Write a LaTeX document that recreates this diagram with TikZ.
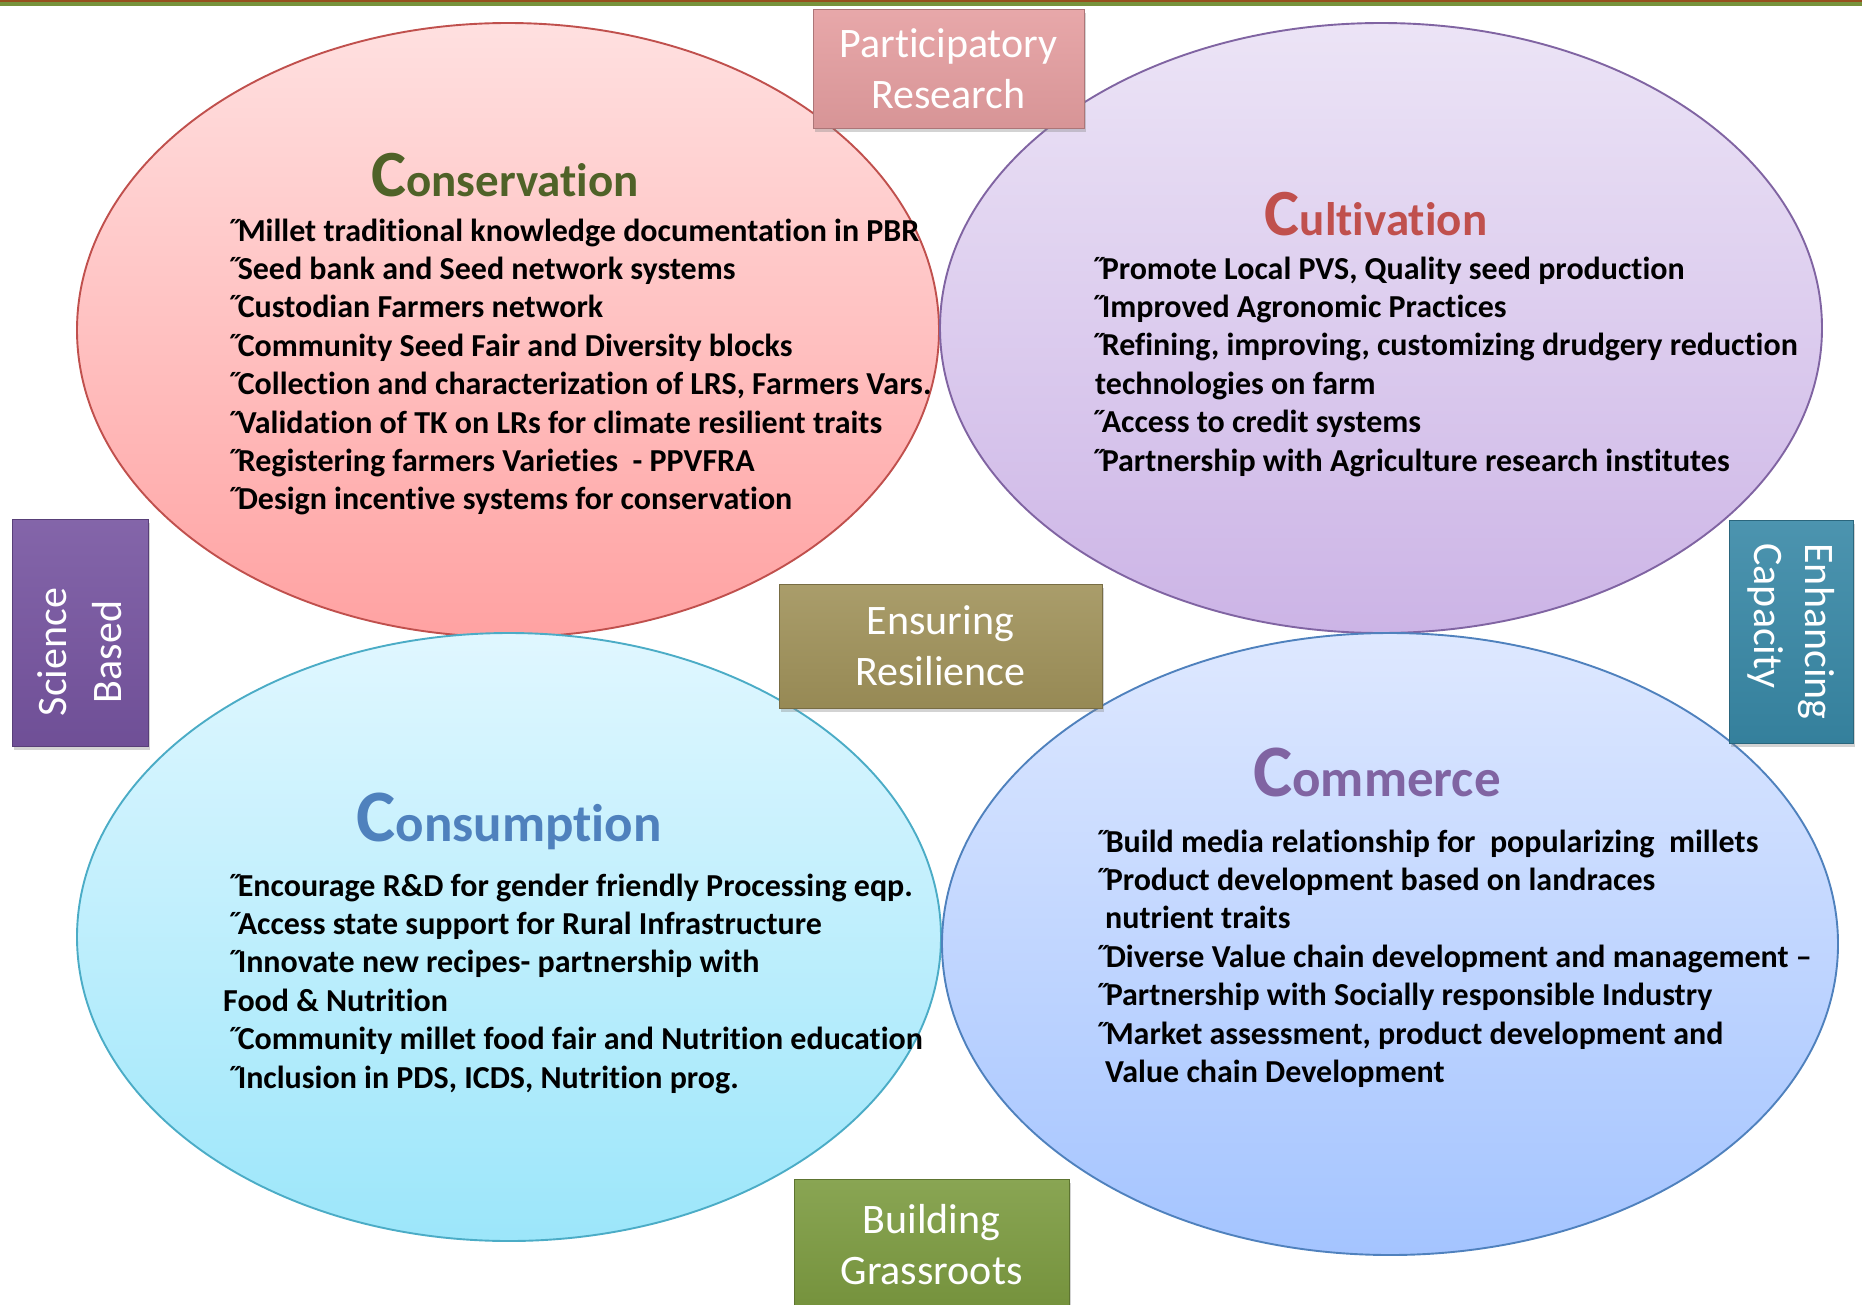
\documentclass[tikz,border=0pt]{standalone}
\usepackage{fontspec}
\setmainfont{Carlito}[Ligatures=NoCommon]
\usetikzlibrary{shapes.geometric,shadows}
\definecolor{barG}{RGB}{119,147,60}
\definecolor{barB}{RGB}{150,80,30}
\definecolor{consB}{RGB}{192,80,77}
\definecolor{consT}{RGB}{255,224,224}
\definecolor{consD}{RGB}{255,162,162}
\definecolor{cultB}{RGB}{128,100,162}
\definecolor{cultT}{RGB}{236,228,246}
\definecolor{cultD}{RGB}{204,180,230}
\definecolor{consuB}{RGB}{75,172,198}
\definecolor{consuT}{RGB}{224,247,255}
\definecolor{consuD}{RGB}{156,230,250}
\definecolor{commB}{RGB}{79,129,189}
\definecolor{commT}{RGB}{222,232,255}
\definecolor{commD}{RGB}{164,196,255}
\definecolor{hGreen}{RGB}{79,98,40}
\definecolor{hRed}{RGB}{192,80,77}
\definecolor{hBlue}{RGB}{79,129,189}
\definecolor{hPurple}{RGB}{128,100,162}
\definecolor{prC}{RGB}{229,158,160}
\definecolor{sbC}{RGB}{118,84,160}
\definecolor{ecC}{RGB}{56,136,166}
\definecolor{erC}{RGB}{160,146,90}
\definecolor{bgC}{RGB}{124,155,64}
\newcommand{\bul}{{\char"02DD}\kern-4pt}
\begin{document}
\begin{tikzpicture}[x=1pt,y=-1pt,
  circ/.style={ellipse, inner sep=0pt, line width=1.9pt},
  tagbox/.style={rectangle, inner sep=0pt, top color=#1!90!white, bottom color=#1!94!black,
     draw=#1!75!black, line width=0.8pt,
     text=white, align=center, font=\fontsize{42}{51}\selectfont,
     drop shadow={shadow xshift=2pt, shadow yshift=-4pt, opacity=0.35}},
  tagtext/.style={inner sep=0pt, text=white, align=center, font=\fontsize{42}{55}\selectfont},
  item/.style={anchor=base west, inner sep=0pt, font=\bfseries\fontsize{32}{38}\selectfont},
  head/.style={anchor=base, inner sep=0pt, font=\bfseries}
]
\useasboundingbox (0,0) rectangle (1862,1304);
\fill[barG] (0,0) rectangle (1862,6);
\fill[barB] (0,0) rectangle (1862,1.5);

% ellipses
\node[circ, draw=consB, top color=consT, bottom color=consD, minimum width=862pt, minimum height=614pt] (econs) at (508,330) {};
\node[circ, draw=cultB, top color=cultT, bottom color=cultD, minimum width=882pt, minimum height=610pt] (ecult) at (1381,328) {};
\node[circ, draw=consuB, top color=consuT, bottom color=consuD, minimum width=864pt, minimum height=608pt] (econsu) at (509,937) {};
\node[circ, draw=commB, top color=commT, bottom color=commD, minimum width=896pt, minimum height=622pt] (ecomm) at (1390,944) {};

% headings
\node[head, text=hGreen] (hcons) at (505,196) {\fontsize{66}{66}\selectfont C\fontsize{47}{47}\selectfont onservation};
\node[head, text=hRed] (hcult) at (1376,235) {\fontsize{66}{66}\selectfont C\fontsize{47}{47}\selectfont ultivation};
\node[head, text=hBlue] (hconsu) at (509,841) {\fontsize{74}{74}\selectfont C\fontsize{53}{53}\selectfont onsumption};
\node[head, text=hPurple] (hcomm) at (1377,796) {\fontsize{74}{74}\selectfont C\fontsize{53}{53}\selectfont ommerce};

% conservation items
\node[item] (cs1) at (226,241) {\bul Millet traditional knowledge documentation in PBR};
\node[item] (cs2) at (226,279.4) {\bul Seed bank and Seed network systems};
\node[item] (cs3) at (226,317.8) {\bul Custodian Farmers network};
\node[item] (cs4) at (226,356.2) {\bul Community Seed Fair and Diversity blocks};
\node[item] (cs5) at (226,394.6) {\bul Collection and characterization of LRS, Farmers Vars.};
\node[item] (cs6) at (226,433) {\bul Validation of TK on LRs for climate resilient traits};
\node[item] (cs7) at (226,471.4) {\bul Registering farmers Varieties\ \ - PPVFRA};
\node[item] (cs8) at (226,509.8) {\bul Design incentive systems for conservation};

% cultivation items
\node[item] (cu1) at (1090,279) {\bul Promote Local PVS, Quality seed production};
\node[item] (cu2) at (1090,317.4) {\bul Improved Agronomic Practices};
\node[item] (cu3) at (1090,355.8) {\bul Refining, improving, customizing drudgery reduction};
\node[item] (cu4) at (1095,394.2) {technologies on farm};
\node[item] (cu5) at (1090,432.6) {\bul Access to credit systems};
\node[item] (cu6) at (1090,471) {\bul Partnership with Agriculture research institutes};

% consumption items
\node[item] (cn1) at (226,896) {\bul Encourage R\&D for gender friendly Processing eqp.};
\node[item] (cn2) at (226,934.4) {\bul Access state support for Rural Infrastructure};
\node[item] (cn3) at (226,972.8) {\bul Innovate new recipes- partnership with};
\node[item] (cn4) at (223,1011.2) {Food \& Nutrition};
\node[item] (cn5) at (226,1049.6) {\bul Community millet food fair and Nutrition education};
\node[item] (cn6) at (226,1088) {\bul Inclusion in PDS, ICDS, Nutrition prog.};

% commerce items
\node[item] (cm1) at (1094,852) {\bul Build media relationship for\ \ popularizing\ \ millets};
\node[item] (cm2) at (1094,890.4) {\bul Product development based on landraces};
\node[item] (cm3) at (1105,928.8) {nutrient traits};
\node[item] (cm4) at (1094,967.2) {\bul Diverse Value chain development and management –};
\node[item] (cm5) at (1094,1005.6) {\bul Partnership with Socially responsible Industry};
\node[item] (cm6) at (1094,1044) {\bul Market assessment, product development and};
\node[item] (cm7) at (1105,1082.4) {Value chain Development};

% tag boxes
\node[tagbox=prC, minimum width=271pt, minimum height=119pt] (pr) at (948.5,68.5) {Participatory\\Research};
\node[tagbox=sbC, rotate=90, minimum width=227pt, minimum height=136pt] (sb) at (80,632.5) {};
\node[tagtext, rotate=90] (sbt) at (80,652) {Science\\Based};
\node[tagbox=ecC, rotate=-90, minimum width=223pt, minimum height=124pt, align=left] (ec) at (1791,631.5) {Enhancing\\Capacity};
\node[tagbox=erC, minimum width=323pt, minimum height=124pt] (er) at (940.5,646) {Ensuring\\Resilience};
\node[tagbox=bgC, minimum width=275pt, minimum height=132pt] (bg) at (931.5,1245) {Building\\Grassroots};
\end{tikzpicture}
\end{document}
